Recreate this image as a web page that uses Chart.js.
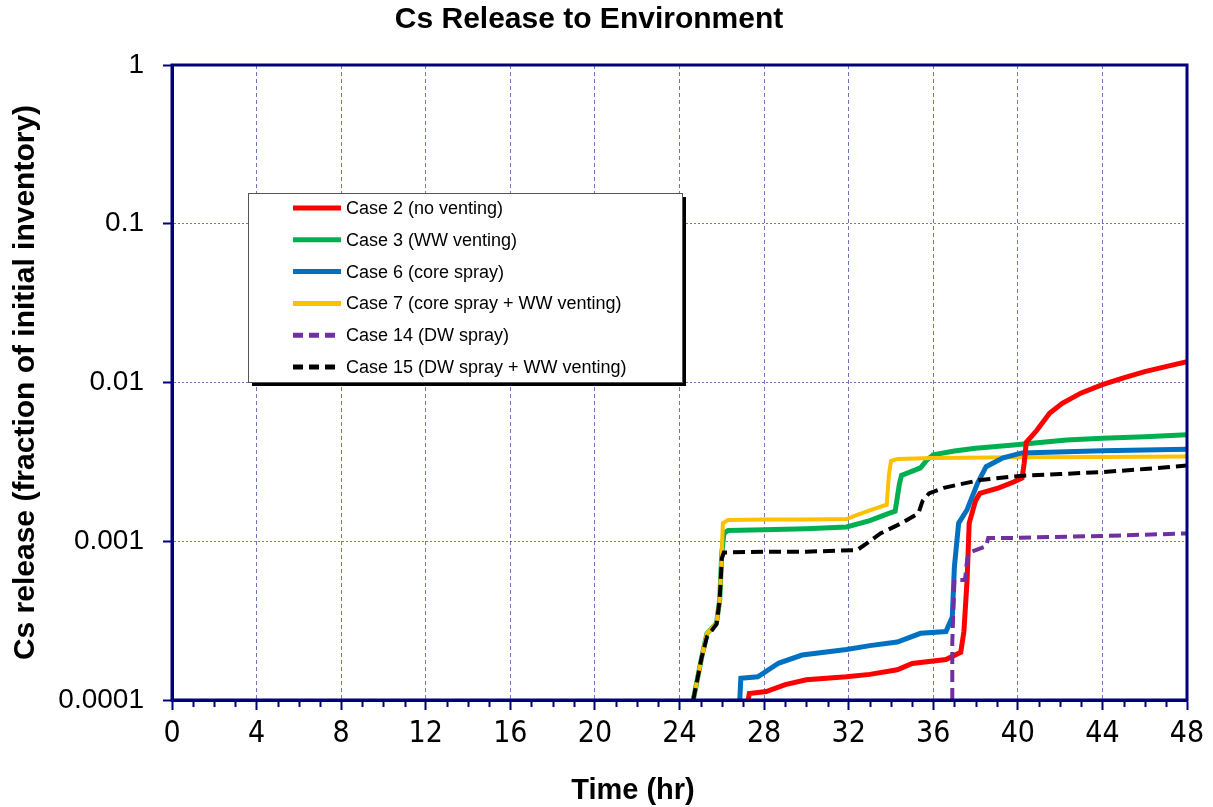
<!DOCTYPE html>
<html>
<head>
<meta charset="utf-8">
<title>Cs Release to Environment</title>
<script src="https://cdn.jsdelivr.net/npm/chart.js@4.4.1/dist/chart.umd.min.js"></script>
<style>
    html, body { margin: 0; padding: 0; background: #fff; }
    #wrap { width: 1213px; height: 807px; }
</style>
</head>
<body>
<div id="wrap"><canvas id="chart"></canvas></div>
<script>
// time axis (hr) and release fraction for each case
const case2Hours = [27.25, 27.3, 28.1, 29.0, 30.0, 31.9, 33.0, 34.3, 35.0, 36.6, 37.3, 37.45, 37.6, 37.7, 38.0, 38.2, 39.1, 39.8, 40.2, 40.3, 40.4, 40.9, 41.5, 42.1, 43.0, 44.0, 45.0, 46.0, 47.0, 48.0];
const case2Release = [1e-4, 1.1e-4, 1.13e-4, 1.25e-4, 1.34e-4, 1.4e-4, 1.45e-4, 1.55e-4, 1.7e-4, 1.8e-4, 2.0e-4, 2.7e-4, 5.7e-4, 1.3e-3, 1.8e-3, 2.0e-3, 2.17e-3, 2.36e-3, 2.5e-3, 3.1e-3, 4.2e-3, 5.0e-3, 6.4e-3, 7.4e-3, 8.6e-3, 9.7e-3, 1.07e-2, 1.17e-2, 1.26e-2, 1.35e-2];

const case3Hours = [24.65, 25.05, 25.3, 25.75, 25.9, 26.0, 26.1, 26.3, 28, 30, 31.9, 33.0, 33.9, 34.2, 34.4, 34.5, 35.4, 35.7, 36.0, 37, 38, 39.8, 42.3, 44, 46, 48];
const case3Release = [1e-4, 1.86e-4, 2.63e-4, 3.05e-4, 4.27e-4, 8.4e-4, 1.12e-3, 1.17e-3, 1.18e-3, 1.2e-3, 1.23e-3, 1.35e-3, 1.5e-3, 1.55e-3, 2.3e-3, 2.6e-3, 2.9e-3, 3.25e-3, 3.5e-3, 3.7e-3, 3.85e-3, 4.04e-3, 4.35e-3, 4.45e-3, 4.55e-3, 4.68e-3];

const case6Hours = [26.85, 26.9, 27.7, 28.7, 29.8, 31.9, 33.0, 34.3, 35.4, 36.6, 36.9, 37.0, 37.2, 37.6, 38.1, 38.5, 39.3, 40.2, 44, 48];
const case6Release = [1e-4, 1.37e-4, 1.4e-4, 1.71e-4, 1.92e-4, 2.08e-4, 2.2e-4, 2.32e-4, 2.63e-4, 2.7e-4, 3.33e-4, 6.9e-4, 1.3e-3, 1.58e-3, 2.33e-3, 2.95e-3, 3.35e-3, 3.6e-3, 3.72e-3, 3.8e-3];

const case7Hours = [24.65, 25.05, 25.3, 25.75, 25.9, 26.0, 26.05, 26.3, 28, 30, 31.9, 32.5, 33.2, 33.8, 33.9, 34.0, 34.3, 36, 40, 44, 48];
const case7Release = [1e-4, 1.86e-4, 2.63e-4, 3.05e-4, 4.27e-4, 8.4e-4, 1.3e-3, 1.36e-3, 1.37e-3, 1.37e-3, 1.38e-3, 1.48e-3, 1.6e-3, 1.7e-3, 2.6e-3, 3.2e-3, 3.3e-3, 3.35e-3, 3.38e-3, 3.4e-3, 3.42e-3];

const case14Hours = [36.9, 36.9, 37.0, 37.5, 37.6, 37.7, 38.5, 38.6, 39.8, 44, 48];
const case14Release = [1e-4, 2.3e-4, 5.7e-4, 5.7e-4, 7.6e-4, 8.5e-4, 9.3e-4, 1.05e-3, 1.05e-3, 1.08e-3, 1.12e-3];

const case15Hours = [24.65, 25.05, 25.3, 25.75, 25.9, 26.0, 26.1, 28, 30, 32.4, 33.0, 33.5, 34.5, 35.3, 35.5, 35.8, 36.5, 38.2, 40.1, 42, 44, 46, 48];
const case15Release = [1e-4, 1.86e-4, 2.5e-4, 3.0e-4, 4.27e-4, 7.8e-4, 8.5e-4, 8.6e-4, 8.6e-4, 8.8e-4, 1.0e-3, 1.12e-3, 1.3e-3, 1.5e-3, 1.8e-3, 2.0e-3, 2.17e-3, 2.43e-3, 2.58e-3, 2.65e-3, 2.73e-3, 2.85e-3, 3.0e-3];

const caseLabels = [
    'Case 2 (no venting)',
    'Case 3 (WW venting)',
    'Case 6 (core spray)',
    'Case 7 (core spray + WW venting)',
    'Case 14 (DW spray)',
    'Case 15 (DW spray + WW venting)'
];
const yTickValues = [0.0001, 0.001, 0.01, 0.1, 1];
const xMin = 0, xMax = 48;

const NAVY = '#00007f';
const FONT = '"Liberation Sans", Arial, sans-serif';
const NARROW = '"Liberation Sans Narrow", "DejaVu Sans Condensed", "Liberation Sans", sans-serif';

function toPoints(hours, values) {
    return hours.map((h, i) => ({ x: h, y: values[i] }));
}

function series(label, hours, values, color, width, dash, order) {
    return {
        label,
        data: toPoints(hours, values),
        borderColor: color,
        backgroundColor: color,
        borderWidth: width,
        borderDash: dash,
        pointRadius: 0,
        tension: 0,
        fill: false,
        order
    };
}

// minor hour ticks, outer frame, titles and the boxed legend
const decorations = {
    id: 'decorations',
    afterDatasetsDraw(chart) {
        const { ctx, chartArea: a, scales } = chart;
        ctx.save();
        ctx.strokeStyle = NAVY;
        ctx.lineWidth = 3;
        ctx.strokeRect(a.left, a.top, a.right - a.left, a.bottom - a.top);

        ctx.lineWidth = 2;
        ctx.beginPath();
        for (let h = xMin; h <= xMax; h++) {
            if (h % 4 === 0) continue;
            const x = Math.round(scales.x.getPixelForValue(h)) + 0.5;
            ctx.moveTo(x, a.bottom);
            ctx.lineTo(x, a.bottom + 7);
        }
        ctx.stroke();
        ctx.restore();
    },
    afterDraw(chart) {
        const { ctx } = chart;
        ctx.save();
        ctx.fillStyle = '#000';
        ctx.textAlign = 'center';
        ctx.textBaseline = 'middle';
        ctx.font = 'bold 30px ' + FONT;
        ctx.fillText('Cs Release to Environment', 589, 20);
        ctx.font = 'bold 29px ' + FONT;
        ctx.fillText('Time (hr)', 633, 791);

        // legend
        const box = { x: 248, y: 193, w: 434, h: 189 };
        ctx.fillStyle = '#000';
        ctx.fillRect(box.x + 4, box.y + 4, box.w, box.h);
        ctx.fillStyle = '#fff';
        ctx.fillRect(box.x, box.y, box.w, box.h);
        ctx.strokeStyle = '#555';
        ctx.lineWidth = 1;
        ctx.strokeRect(box.x + 0.5, box.y + 0.5, box.w, box.h);

        ctx.font = '18px ' + FONT;
        ctx.textAlign = 'left';
        chart.data.datasets.forEach((ds, i) => {
            const y = 208 + i * 31.8;
            ctx.strokeStyle = ds.borderColor;
            ctx.lineWidth = 5;
            ctx.setLineDash(ds.borderDash.length ? [10, 6] : []);
            ctx.beginPath();
            ctx.moveTo(293, y);
            ctx.lineTo(341, y);
            ctx.stroke();
            ctx.setLineDash([]);
            ctx.fillStyle = '#000';
            ctx.fillText(ds.label, 346, y + 1);
        });
        ctx.restore();
    }
};

new Chart(document.getElementById('chart'), {
    type: 'line',
    data: {
        datasets: [
            series(caseLabels[0], case2Hours, case2Release, '#ff0000', 5, [], 2),
            series(caseLabels[1], case3Hours, case3Release, '#00b050', 5, [], 5),
            series(caseLabels[2], case6Hours, case6Release, '#0070c0', 5, [], 3),
            series(caseLabels[3], case7Hours, case7Release, '#ffc000', 4, [], 4),
            series(caseLabels[4], case14Hours, case14Release, '#7030a0', 4, [12, 6], 1),
            series(caseLabels[5], case15Hours, case15Release, '#000000', 4, [12, 6], 0)
        ]
    },
    plugins: [decorations],
    options: {
        responsive: true,
        maintainAspectRatio: false,
        animation: false,
        layout: { padding: { top: 65, right: 26, left: 0, bottom: 0 } },
        plugins: {
            legend: { display: false },
            title: { display: false },
            tooltip: { enabled: false }
        },
        scales: {
            x: {
                type: 'linear',
                min: xMin,
                max: xMax,
                border: { color: NAVY, width: 3, dash: [4, 3] },
                grid: {
                    color: (c) => (c.tick && c.tick.value % 4 === 0 ? 'rgba(0,0,140,0.55)' : 'transparent'),
                    lineWidth: 1,
                    tickLength: 10,
                    tickWidth: 2,
                    tickColor: (c) => (c.tick && c.tick.value % 4 === 0 ? NAVY : 'transparent')
                },
                ticks: {
                    stepSize: 1,
                    autoSkip: false,
                    maxRotation: 0,
                    maxTicksLimit: 60,
                    padding: 6,
                    color: '#000',
                    font: { family: NARROW, size: 30 },
                    callback: (v) => (v % 4 === 0 ? String(v) : '')
                },
                afterFit(scale) { scale.height = 107; }
            },
            y: {
                type: 'logarithmic',
                min: 0.0001,
                max: 1,
                border: { color: NAVY, width: 3, dash: [2, 2] },
                grid: {
                    color: 'rgba(0,0,140,0.55)',
                    lineWidth: 1,
                    tickLength: 9,
                    tickWidth: 2,
                    tickColor: NAVY
                },
                afterBuildTicks(scale) {
                    scale.ticks = yTickValues.map(v => ({ value: v }));
                },
                ticks: {
                    padding: 19,
                    color: '#000',
                    font: { family: FONT, size: 28 },
                    callback: (v) => String(v)
                },
                title: {
                    display: true,
                    text: 'Cs release (fraction of initial inventory)',
                    color: '#000',
                    font: { family: FONT, size: 30, weight: 'bold' },
                    padding: { top: 8, bottom: 0 }
                },
                afterFit(scale) { scale.width = 172; }
            }
        }
    }
});
</script>
</body>
</html>
